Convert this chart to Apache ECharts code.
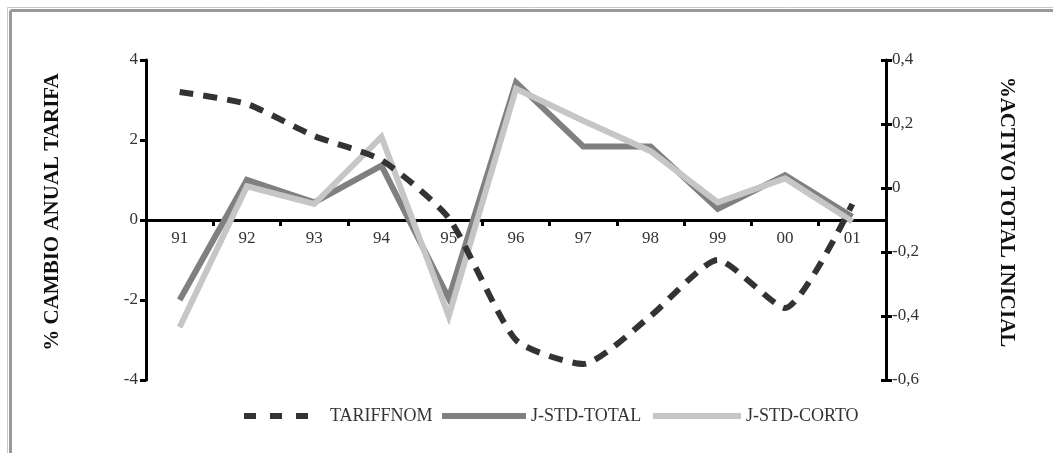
<!DOCTYPE html>
<html>
<head>
<meta charset="utf-8">
<script src="https://cdn.jsdelivr.net/npm/echarts@6/dist/echarts.min.js"></script>
<style>
html,body{margin:0;padding:0;background:#fff;}
#chart{width:1053px;height:453px;}
</style>
</head>
<body>
<div id="chart"></div>
<script>
const categories = ['91','92','93','94','95','96','97','98','99','00','01'];
const tariffnom = [3.2, 2.9, 2.1, 1.5, 0.05, -3.0, -3.6, -2.4, -1.0, -2.2, 0.4];
const jStdTotal = [-0.35, 0.025, -0.045, 0.07, -0.345, 0.33, 0.13, 0.13, -0.065, 0.04, -0.09];
const jStdCorto = [-0.435, 0.005, -0.05, 0.16, -0.40, 0.31, 0.21, 0.115, -0.045, 0.03, -0.105];
const leftTitle = '% CAMBIO ANUAL TARIFA';
const rightTitle = '%ACTIVO TOTAL INICIAL';

const serif = '"Liberation Serif", "Times New Roman", serif';
const chart = echarts.init(document.getElementById('chart'), null, {renderer: 'canvas'});
const labelStyle = {fontFamily: serif, fontSize: 17, color: '#333'};
const axisLine = {show: true, lineStyle: {color: '#000', width: 3}};
const fmtRight = v => {
  const r = Math.round(v * 10) / 10;
  return (r === 0 ? '0' : r.toFixed(1)).replace('.', ',');
};
const legendText = {fontFamily: serif, fontSize: 18, color: '#333'};
const hiddenSymbol = {opacity: 0, color: 'rgba(0,0,0,0)', borderWidth: 0};

chart.setOption({
  backgroundColor: '#fff',
  animation: false,
  graphic: [
    {type: 'line', shape: {x1: 7.5, y1: 7.5, x2: 1053, y2: 7.5}, style: {stroke: '#c8c8c8', lineWidth: 1}},
    {type: 'line', shape: {x1: 7.5, y1: 7.5, x2: 7.5, y2: 453}, style: {stroke: '#c8c8c8', lineWidth: 1}},
    {type: 'line', shape: {x1: 10.5, y1: 10.5, x2: 1053, y2: 10.5}, style: {stroke: '#999', lineWidth: 3}},
    {type: 'line', shape: {x1: 10.5, y1: 10.5, x2: 10.5, y2: 453}, style: {stroke: '#999', lineWidth: 3}}
  ],
  grid: {left: 146, right: 167, top: 60, bottom: 73, containLabel: false},
  legend: [
    {data: ['TARIFFNOM'], left: 236, top: 402, itemWidth: 64, itemHeight: 14,
     itemStyle: hiddenSymbol, lineStyle: {width: 6, type: [12, 14], color: '#333'},
     textStyle: Object.assign({padding: [0, 0, 0, 17]}, legendText)},
    {data: ['J-STD-TOTAL'], left: 434, top: 402, itemWidth: 84, itemHeight: 14,
     itemStyle: hiddenSymbol, lineStyle: {width: 6}, textStyle: legendText},
    {data: ['J-STD-CORTO'], left: 645, top: 402, itemWidth: 88, itemHeight: 14,
     itemStyle: hiddenSymbol, lineStyle: {width: 6}, textStyle: legendText}
  ],
  xAxis: {
    type: 'category', data: categories, boundaryGap: true,
    position: 'bottom', offset: -160,
    axisLine: {show: true, onZero: false, lineStyle: {color: '#000', width: 3}},
    axisTick: {show: true, length: 6, inside: false, lineStyle: {color: '#000', width: 3}},
    axisLabel: Object.assign({margin: 10}, labelStyle),
    splitLine: {show: false}
  },
  yAxis: [
    {
      type: 'value', position: 'left', min: -4, max: 4, interval: 2,
      axisLine: axisLine,
      axisTick: {show: true, length: 6, lineStyle: {color: '#000', width: 3}},
      axisLabel: Object.assign({margin: 8}, labelStyle),
      splitLine: {show: false},
      name: leftTitle, nameLocation: 'middle', nameRotate: 90, nameGap: 83,
      nameTextStyle: {fontFamily: serif, fontSize: 21, fontWeight: 'bold', color: '#111', padding: [0, 0, 0, 16]}
    },
    {
      type: 'value', position: 'right', min: -0.6, max: 0.4, interval: 0.2,
      axisLine: axisLine,
      axisTick: {show: true, length: 6, lineStyle: {color: '#000', width: 3}},
      axisLabel: Object.assign({margin: 6, formatter: fmtRight}, labelStyle),
      splitLine: {show: false},
      name: rightTitle, nameLocation: 'middle', nameRotate: -90, nameGap: 110,
      nameTextStyle: {fontFamily: serif, fontSize: 21, fontWeight: 'bold', color: '#111', padding: [0, 16, 0, 0]}
    },
    {
      type: 'value', position: 'right', min: -0.6, max: 0.4, interval: 0.2,
      axisLine: {show: false},
      axisTick: {show: true, inside: true, length: 5, lineStyle: {color: '#000', width: 3}},
      axisLabel: {show: false},
      splitLine: {show: false}
    }
  ],
  series: [
    {
      name: 'TARIFFNOM', type: 'line', yAxisIndex: 0, data: tariffnom,
      smooth: 0.2, symbol: 'none', z: 4,
      lineStyle: {color: '#333', width: 6, type: [14, 10], cap: 'butt'},
      itemStyle: {color: '#333'}
    },
    {
      name: 'J-STD-TOTAL', type: 'line', yAxisIndex: 1, data: jStdTotal,
      symbol: 'none', z: 2,
      lineStyle: {color: '#808080', width: 6, join: 'miter'},
      itemStyle: {color: '#808080'}
    },
    {
      name: 'J-STD-CORTO', type: 'line', yAxisIndex: 1, data: jStdCorto,
      symbol: 'none', z: 3,
      lineStyle: {color: '#c6c6c6', width: 6, join: 'miter'},
      itemStyle: {color: '#c6c6c6'}
    }
  ]
});
</script>
</body>
</html>
